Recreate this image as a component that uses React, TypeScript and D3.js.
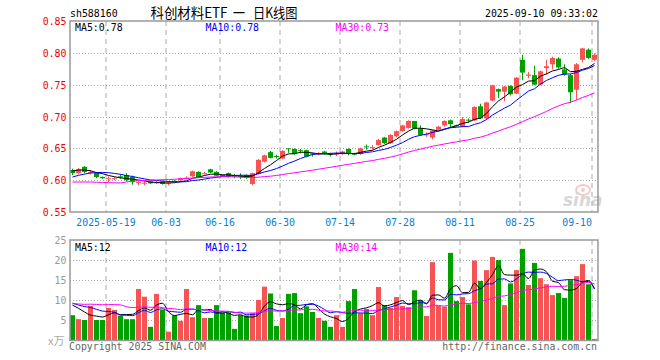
import React from 'react';
import * as d3 from 'd3';

const dates = [
  "05-09","05-12","05-13","05-14","05-15","05-16","05-19","05-20","05-21","05-22",
  "05-23","05-26","05-27","05-28","05-29","05-30","06-03","06-04","06-05","06-06",
  "06-09","06-10","06-11","06-12","06-13","06-16","06-17","06-18","06-19","06-20",
  "06-23","06-24","06-25","06-26","06-27","06-30","07-01","07-02","07-03","07-04",
  "07-07","07-08","07-09","07-10","07-11","07-14","07-15","07-16","07-17","07-18",
  "07-21","07-22","07-23","07-24","07-25","07-28","07-29","07-30","07-31","08-01",
  "08-04","08-05","08-06","08-07","08-08","08-11","08-12","08-13","08-14","08-15",
  "08-18","08-19","08-20","08-21","08-22","08-25","08-26","08-27","08-28","08-29",
  "09-01","09-02","09-03","09-04","09-05","09-08","09-09","09-10"
];

const open = [
  .616,.611,.621,.612,.612,.605,.602,.602,.606,.608,
  .605,.596,.595,.598,.595,.598,.595,.599,.600,.603,
  .606,.613,.610,.617,.613,.608,.611,.607,.607,.608,
  .594,.610,.629,.644,.638,.634,.650,.649,.647,.647,
  .642,.641,.645,.642,.641,.641,.649,.642,.641,.653,
  .651,.655,.667,.658,.669,.677,.682,.693,.681,.671,
  .667,.679,.686,.694,.686,.684,.695,.694,.716,.697,
  .725,.743,.739,.748,.736,.789,.764,.765,.750,.776,
  .782,.791,.774,.765,.742,.789,.805,.789
];
const high = [
  .618,.619,.622,.616,.613,.606,.606,.605,.609,.611,
  .607,.598,.598,.598,.599,.599,.598,.600,.604,.606,
  .615,.614,.613,.618,.614,.609,.612,.610,.611,.609,
  .612,.633,.640,.646,.640,.647,.650,.650,.649,.648,
  .643,.644,.646,.643,.645,.646,.650,.643,.651,.656,
  .655,.665,.668,.672,.678,.687,.694,.693,.686,.675,
  .679,.685,.694,.695,.687,.699,.697,.716,.720,.723,
  .750,.744,.748,.749,.762,.797,.770,.780,.772,.789,
  .794,.793,.782,.767,.784,.808,.807,.799
];
const low = [
  .608,.609,.611,.609,.603,.602,.597,.600,.602,.598,
  .593,.592,.592,.594,.594,.593,.592,.597,.598,.601,
  .605,.604,.609,.611,.606,.605,.604,.603,.602,.602,
  .592,.609,.628,.634,.634,.633,.643,.640,.642,.636,
  .637,.639,.640,.637,.638,.640,.639,.639,.640,.648,
  .648,.654,.657,.657,.667,.676,.681,.680,.670,.668,
  .664,.678,.684,.683,.684,.683,.690,.693,.696,.695,
  .724,.729,.724,.733,.735,.757,.760,.749,.749,.766,
  .774,.775,.764,.721,.726,.785,.790,.787
];
const close = [
  .611,.617,.613,.613,.605,.603,.603,.603,.604,.600,
  .597,.597,.596,.595,.597,.594,.596,.598,.603,.604,
  .614,.605,.611,.612,.607,.607,.605,.606,.606,.604,
  .611,.632,.639,.635,.637,.646,.649,.641,.646,.637,
  .641,.642,.641,.641,.642,.645,.641,.640,.650,.652,
  .652,.663,.658,.671,.677,.686,.693,.681,.671,.672,
  .678,.684,.693,.688,.685,.696,.694,.715,.697,.722,
  .749,.739,.747,.735,.761,.769,.766,.750,.771,.779,
  .792,.777,.766,.738,.782,.807,.792,.797
];
const volume = [
  6.3,5.3,5.1,8.6,5.1,5.1,8.1,7.6,6.2,5.3,
  5.3,12.8,10.9,3.4,11.6,7.6,2.2,6.2,4.9,12.8,
  5.8,8.8,5.6,5.6,8.8,7.0,7.0,2.9,6.3,6.2,
  6.8,10.1,13.4,11.7,3.6,5.6,11.6,11.8,6.8,8.5,
  7.1,5.6,4.9,3.4,6.3,3.4,9.8,12.8,6.8,7.8,
  6.3,13.3,8.8,8.1,10.8,8.6,8.3,12.5,10.0,6.1,
  19.5,8.6,8.4,21.8,9.8,10.8,9.0,19.9,14.8,17.5,
  20.8,20.0,8.8,14.2,17.5,22.8,13.8,19.3,15.5,14.0,
  11.3,11.8,10.6,15.0,16.0,19.0,14.0,0.4
];
// closes and volumes of the 29 sessions before the first shown day (for moving averages)
const prevClose = [
  .616,.613,.614,.615,.612,.614,.610,.612,.552,.565,
  .572,.578,.584,.588,.585,.583,.586,.584,.588,.592,
  .590,.594,.596,.598,.600,.608,.614,.618,.620
];
const prevVolume = [
  7,8,7.5,6.5,8,7,7.5,8,20,11,
  10,8,7,8,14,8,9,11,7,9,
  10,9,11,9.5,9.5,9.3,9.6,12.6,6.2
];

const priceTicks = [0.85, 0.80, 0.75, 0.70, 0.65, 0.60, 0.55];
const volTicks = [25, 20, 15, 10, 5];
const dateTicks = ["05-19","06-03","06-16","06-30","07-14","07-28","08-11","08-25","09-10"];
const dateTickLabels = ["2025-05-19","06-03","06-16","06-30","07-14","07-28","08-11","08-25","09-10"];
const priceLegend = ["MA5:0.78", "MA10:0.78", "MA30:0.73"];
const volLegend = ["MA5:12", "MA10:12", "MA30:14"];
const titleParts = ["科创材料ETF", "一", "日K线图"];
const maPeriods = [5, 10, 30];
const maColors = ["#000000", "#0000ff", "#ff00ff"];

const RED = "#f65454";
const GREEN = "#00a000";
const MONO = "'DejaVu Sans Mono', 'Liberation Mono', monospace";
const CJK = "'Noto Sans CJK SC', sans-serif";

function movingAvg(series: number[], prev: number[], n: number): number[] {
  const all = prev.concat(series);
  const off = prev.length;
  return series.map((_, i) => {
    const end = off + i;
    const slice = all.slice(end - n + 1, end + 1);
    return d3.mean(slice) as number;
  });
}

function MonoText(props: { x: number; y: number; text: string; fill: string; anchor?: string; cw?: number; size?: number }) {
  const cw = props.cw ?? 5.95;
  const len = props.text.length * cw;
  let x = props.x;
  if (props.anchor === 'end') x = props.x - len;
  else if (props.anchor === 'middle') x = props.x - len / 2;
  return (
    <text x={x} y={props.y} fill={props.fill} fontFamily={MONO} fontSize={props.size ?? 11}
      textLength={len} lengthAdjust="spacingAndGlyphs">{props.text}</text>
  );
}

export default function App() {
  const L = 70, R = 598, T = 21, B = 212, VT = 240, VB = 340.5;
  const x = d3.scaleBand<string>().domain(dates).range([L - 0.5, R - 0.5]).paddingInner(1 / 6).paddingOuter(1 / 12);
  const bw = x.bandwidth();
  const y = d3.scaleLinear().domain([0.55, 0.85]).range([B, T]);
  const yv = d3.scaleLinear().domain([0, 25]).range([VB, VT]);
  const cx = (d: string) => (x(d) as number) + bw / 2;

  const priceMA = maPeriods.map(n => movingAvg(close, prevClose, n));
  const volMA = maPeriods.map(n => movingAvg(volume, prevVolume, n));

  const priceLine = (vals: number[]) => d3.line<number>().x((_, i) => cx(dates[i])).y(v => y(v))(vals) as string;
  const volLine = (vals: number[]) => d3.line<number>().x((_, i) => cx(dates[i])).y(v => yv(v)).curve(d3.curveMonotoneX)(vals) as string;

  const crisp = (v: number) => Math.round(v) + 0.5;
  const titleX = [150.5, 233, 253];
  const titleW = [77, 12, 44.5];

  return (
    <svg width={660} height={360} style={{ position: 'absolute', left: 0, top: 0, background: '#fff' }}>
      <rect x={0} y={0} width={660} height={360} fill="#fff" />
      {/* header */}
      <MonoText x={70} y={17} text="sh588160" fill="#000" />
      {titleParts.map((t, k) => (
        <text key={'tt' + k} x={titleX[k]} y={18} fontFamily={CJK} fontSize={14} fill="#000"
          textLength={titleW[k]} lengthAdjust="spacingAndGlyphs">{t}</text>
      ))}
      <MonoText x={598} y={17} text="2025-09-10 09:33:02" fill="#000" anchor="end" />

      {/* price grid */}
      {priceTicks.filter(t => t < 0.84 && t > 0.56).map(t => (
        <line key={'pg' + t} x1={L} x2={R} y1={crisp(y(t))} y2={crisp(y(t))} stroke="#aaa" strokeDasharray="1,2" />
      ))}
      {dateTicks.map(d => (
        <g key={'vg' + d}>
          <line x1={x(d) as number} x2={x(d) as number} y1={T} y2={B} stroke="#aaa" strokeDasharray="5,4" />
          <line x1={x(d) as number} x2={x(d) as number} y1={VT} y2={VB} stroke="#aaa" strokeDasharray="5,4" />
        </g>
      ))}
      {/* volume grid */}
      {volTicks.filter(t => t < 25).map(t => (
        <line key={'vgh' + t} x1={L} x2={R} y1={crisp(yv(t))} y2={crisp(yv(t))} stroke="#aaa" strokeDasharray="1,2" />
      ))}

      {/* watermark */}
      <g opacity={0.55}>
        <ellipse cx={583} cy={190} rx={7} ry={5} fill="none" stroke="#f29a9a" strokeWidth={2} />
        <circle cx={583} cy={190} r={2} fill="#f29a9a" />
        <text x={563} y={206} fontFamily="'DejaVu Sans', sans-serif" fontStyle="italic" fontWeight="bold" fontSize={17} fill="#b8b8b8">sina</text>
      </g>

      {/* candles */}
      {dates.map((d, i) => {
        const up = close[i] >= open[i];
        const col = up ? RED : GREEN;
        const top = y(Math.max(open[i], close[i]));
        const bot = y(Math.min(open[i], close[i]));
        const h = Math.max(1, bot - top);
        return (
          <g key={'c' + d}>
            <line x1={cx(d)} x2={cx(d)} y1={y(high[i])} y2={y(low[i])} stroke={col} strokeWidth={1} />
            <rect x={x(d) as number} y={top} width={bw} height={h} fill={col} />
          </g>
        );
      })}
      {/* price MAs */}
      {priceMA.map((vals, k) => (
        <path key={'pma' + k} d={priceLine(vals)} fill="none" stroke={maColors[k]} strokeWidth={1} />
      ))}

      {/* volume bars */}
      {dates.map((d, i) => {
        const up = close[i] >= open[i];
        return <rect key={'v' + d} x={x(d) as number} y={yv(volume[i])} width={bw} height={VB - yv(volume[i])} fill={up ? RED : GREEN} />;
      })}
      {volMA.map((vals, k) => (
        <path key={'vma' + k} d={volLine(vals)} fill="none" stroke={maColors[k]} strokeWidth={1} />
      ))}

      {/* frames */}
      <rect x={L} y={T} width={R - L} height={B - T} fill="none" stroke="#999" strokeWidth={1.5} />
      <rect x={L} y={VT} width={R - L} height={VB - VT} fill="none" stroke="#999" strokeWidth={1.5} />

      {/* legends */}
      {priceLegend.map((t, k) => (
        <MonoText key={'pl' + k} x={[75, 205.5, 335.5][k]} y={31} text={t} fill={maColors[k]} />
      ))}
      {volLegend.map((t, k) => (
        <MonoText key={'vl' + k} x={[75, 205.5, 335.5][k]} y={251} text={t} fill={maColors[k]} />
      ))}

      {/* price axis labels */}
      {priceTicks.map(t => (
        <MonoText key={'pt' + t} x={66.5} y={y(t) + 4} text={d3.format('.2f')(t)} fill="#ee0000" anchor="end" />
      ))}
      {/* volume axis labels */}
      {volTicks.map(t => (
        <MonoText key={'vt' + t} x={66.5} y={yv(t) + 4} text={String(t)} fill="#999" anchor="end" />
      ))}
      <text x={48} y={345} fontFamily={CJK} fontSize={11} fill="#aaa">x万</text>

      {/* date labels */}
      {dateTicks.map((d, k) => {
        const gx = x(d) as number;
        const lab = dateTickLabels[k];
        const w = lab.length * 5.95;
        const anchor = gx + w / 2 > R ? 'end' : 'middle';
        return <MonoText key={'dt' + d} x={gx} y={226} text={lab} fill="#0a80d0" anchor={anchor} />;
      })}

      {/* footer */}
      <MonoText x={69} y={350} text="Copyright 2025 SINA.COM" fill="#666" />
      <MonoText x={597} y={350} text="http://finance.sina.com.cn" fill="#666" anchor="end" />
    </svg>
  );
}
